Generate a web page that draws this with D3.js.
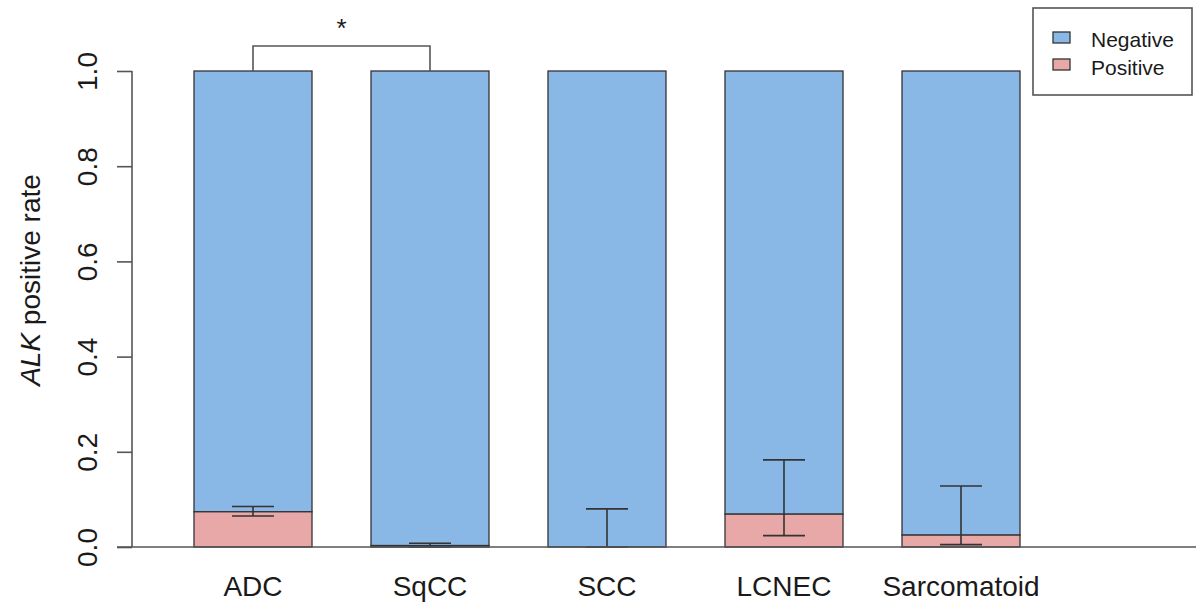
<!DOCTYPE html>
<html>
<head>
<meta charset="utf-8">
<script src="https://cdn.jsdelivr.net/npm/d3@7"></script>
<style>
  body { margin: 0; background: #fff; }
  text { font-family: "Liberation Sans", Arial, sans-serif; fill: #1a1a1a; }
</style>
</head>
<body>
<script>
var categories = ["ADC", "SqCC", "SCC", "LCNEC", "Sarcomatoid"];
var positive = [0.074, 0.003, 0.0, 0.069, 0.025];
var errLow = [0.065, 0.0, 0.0, 0.024, 0.005];
var errHigh = [0.085, 0.008, 0.080, 0.183, 0.128];
var yTicks = [0, 0.2, 0.4, 0.6, 0.8, 1.0];
var legendLabels = ["Negative", "Positive"];

var width = 1198, height = 606;
var colNeg = "#8ab8e6", colPos = "#e8a8a8";

var svg = d3.select("body").append("svg")
    .attr("width", width)
    .attr("height", height);

var y = d3.scaleLinear().domain([0, 1]).range([547, 71]);
var x = d3.scaleBand().domain(categories)
    .range([194, 1020]).paddingInner(1/3).paddingOuter(0);

// bars
var g = svg.append("g");
g.selectAll("rect.neg").data(categories).enter().append("rect")
    .attr("class", "neg")
    .attr("x", function(d){ return x(d); })
    .attr("width", x.bandwidth())
    .attr("y", y(1))
    .attr("height", function(d, i){ return y(positive[i]) - y(1); })
    .attr("fill", colNeg).attr("stroke", "#333").attr("stroke-width", 1.3);

g.selectAll("rect.pos").data(categories).enter().append("rect")
    .attr("class", "pos")
    .attr("x", function(d){ return x(d); })
    .attr("width", x.bandwidth())
    .attr("y", function(d, i){ return y(positive[i]); })
    .attr("height", function(d, i){ return y(0) - y(positive[i]); })
    .attr("fill", colPos).attr("stroke", "#333").attr("stroke-width", 1.3);

// error bars
var eb = svg.append("g").attr("stroke", "#333").attr("stroke-width", 1.6);
categories.forEach(function(c, i){
  var cx = x(c) + x.bandwidth() / 2;
  eb.append("line").attr("x1", cx).attr("x2", cx)
    .attr("y1", y(errLow[i])).attr("y2", y(errHigh[i]));
  [errLow[i], errHigh[i]].forEach(function(v){
    eb.append("line").attr("x1", cx - 21).attr("x2", cx + 21)
      .attr("y1", y(v)).attr("y2", y(v));
  });
});

// x baseline
svg.append("line").attr("x1", 117).attr("x2", 1196)
    .attr("y1", y(0)).attr("y2", y(0))
    .attr("stroke", "#555").attr("stroke-width", 1.6);

// y axis
var yAxis = d3.axisLeft(y).tickValues(yTicks).tickFormat(d3.format(".1f")).tickSize(15);
var ya = svg.append("g").attr("transform", "translate(132,0)").call(yAxis);
ya.select(".domain").attr("stroke", "#555").attr("stroke-width", 1.6).attr("d", "M0," + y(0) + "V" + y(1));
ya.selectAll(".tick line").attr("stroke", "#555").attr("stroke-width", 1.6);
ya.selectAll(".tick text")
    .attr("font-size", 28)
    .attr("text-anchor", "middle")
    .attr("x", 0).attr("y", 0).attr("dy", "0.36em")
    .attr("transform", "translate(-45,0) rotate(-90)");

// y label
svg.append("text")
    .attr("transform", "translate(40,280) rotate(-90)")
    .attr("text-anchor", "middle")
    .attr("font-size", 28)
    .html('<tspan font-style="italic">ALK</tspan> positive rate');

// x labels
svg.append("g").selectAll("text").data(categories).enter().append("text")
    .attr("x", function(d){ return x(d) + x.bandwidth() / 2; })
    .attr("y", 596)
    .attr("text-anchor", "middle")
    .attr("font-size", 28)
    .text(function(d){ return d; });

// significance bracket
var x1 = x(categories[0]) + x.bandwidth() / 2, x2 = x(categories[1]) + x.bandwidth() / 2;
svg.append("path")
    .attr("d", "M" + x1 + "," + y(1) + "V46H" + x2 + "V" + y(1))
    .attr("fill", "none").attr("stroke", "#555").attr("stroke-width", 1.6);
svg.append("text").attr("x", (x1 + x2) / 2).attr("y", 37)
    .attr("text-anchor", "middle").attr("font-size", 26).text("*");

// legend
var lg = svg.append("g");
lg.append("rect").attr("x", 1033).attr("y", 8).attr("width", 159).attr("height", 87)
    .attr("fill", "#fff").attr("stroke", "#555").attr("stroke-width", 1.6);
var legCols = [colNeg, colPos];
legendLabels.forEach(function(l, i){
  lg.append("rect").attr("x", 1053).attr("y", 32 + i * 27).attr("width", 17).attr("height", 11)
    .attr("fill", legCols[i]).attr("stroke", "#333").attr("stroke-width", 1.3);
  lg.append("text").attr("x", 1091).attr("y", 47 + i * 28).attr("font-size", 21).text(l);
});
</script>
</body>
</html>
